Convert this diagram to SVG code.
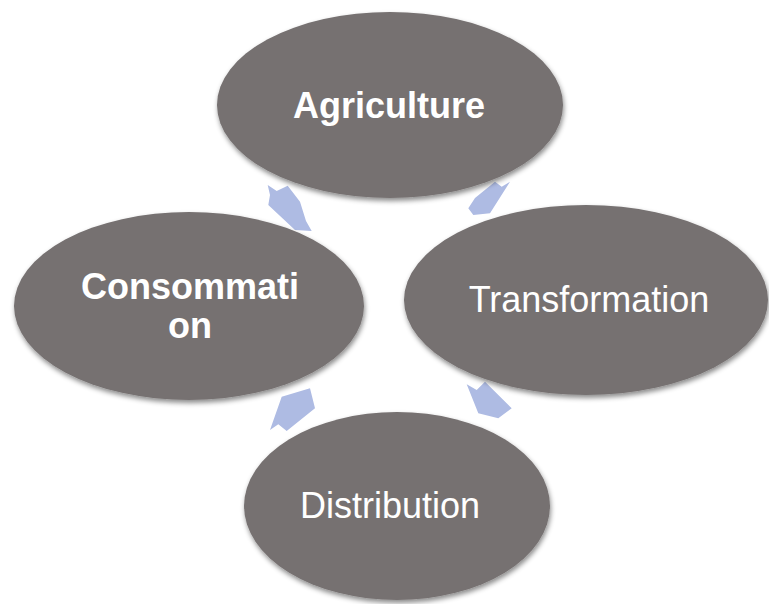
<svg xmlns="http://www.w3.org/2000/svg" width="769" height="604" viewBox="0 0 769 604">
<defs>
<filter id="sh" x="-10%" y="-10%" width="120%" height="125%">
<feDropShadow dx="1" dy="3" stdDeviation="2.5" flood-color="#000" flood-opacity="0.45"/>
</filter>
<filter id="bl" x="-20%" y="-20%" width="140%" height="140%">
<feGaussianBlur stdDeviation="0.7"/>
</filter>
</defs>
<style>
.node{fill:#767171;filter:url(#sh)}
.lbl{fill:#ffffff;font-family:"Liberation Sans",Arial,sans-serif;font-size:36px;text-anchor:middle}
.b{font-weight:bold}
.arr{fill:#AEBBE3;filter:url(#bl)}
</style>
<rect width="769" height="604" fill="#ffffff"/>
<g id="connectors">
<polygon class="arr" points="267.7,185 276.7,191 287.7,185.7 300,201.7 306,221 311.7,231 295,230 268.3,205 270,195"/>
<polygon class="arr" points="495,181.7 501.7,186.7 510,181.7 490,213.3 473.3,215 468.3,208.3 475,198"/>
<polygon class="arr" points="466.7,384.3 476.7,390 485,381.7 511.7,408.3 498.3,418.3 478.3,413.3 471.7,396.7"/>
<polygon class="arr" points="270,430 278.3,424.3 286.7,431 315,408.3 310,388.3 281.7,396.7"/>
</g>
<g id="agriculture">
<ellipse class="node" cx="390" cy="105" rx="173" ry="93"/>
<text class="lbl b" x="389" y="118">Agriculture</text>
</g>
<g id="transformation">
<ellipse class="node" cx="586" cy="300" rx="182" ry="95"/>
<text class="lbl" x="589" y="312">Transformation</text>
</g>
<g id="distribution">
<ellipse class="node" cx="397" cy="506" rx="153" ry="94"/>
<text class="lbl" x="390" y="518">Distribution</text>
</g>
<g id="consommation">
<ellipse class="node" cx="189" cy="306" rx="175" ry="94"/>
<text class="lbl b" x="190" y="299">Consommati</text>
<text class="lbl b" x="190" y="338">on</text>
</g>
</svg>
